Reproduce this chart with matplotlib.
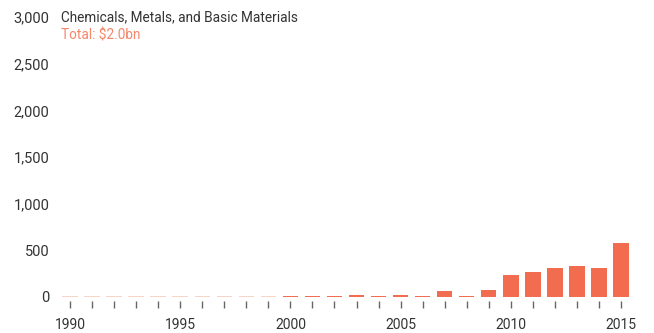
import numpy as np
import matplotlib.pyplot as plt

# yearly values, $m
years = np.arange(1990, 2016)
values = [0, 0, 0, 0, 0, 0, 0, 0, 0, 0,
          5, 4, 6, 20, 10, 22, 10, 62, 10, 72,
          235, 265, 310, 330, 310, 580]
title = 'Chemicals, Metals, and Basic Materials'
total_label = 'Total: $2.0bn'

bar_color = '#f26d50'
empty_color = '#f8d3c8'
text_color = '#333333'

plt.rcParams['font.family'] = ['Roboto', 'DejaVu Sans']

fig = plt.figure(figsize=(6.54, 3.33), dpi=100)
ax = fig.add_axes([59 / 654, 36 / 333, 573 / 654, 280 / 333])

vals = np.array(values, dtype=float)
# empty years are shown as a faint stub
heights = np.where(vals > 0, np.maximum(vals, 6), 6)
colors = [bar_color if v > 0 else empty_color for v in vals]
ax.bar(years, heights, width=0.7, color=colors, linewidth=0)

ax.set_xlim(1989.5, 2015.5)
ax.set_ylim(0, 3000)

ax.set_yticks(np.arange(0, 3001, 500))
ax.set_yticklabels([f'{v:,}' for v in range(0, 3001, 500)])
ax.set_xticks(years)
ax.set_xticklabels([str(y) if y % 5 == 0 else '' for y in years])

for s in ['top', 'right', 'left']:
    ax.spines[s].set_visible(False)
ax.spines['bottom'].set_position(('outward', 3))
ax.spines['bottom'].set_visible(False)

ax.tick_params(axis='y', length=0, pad=7, labelsize=10.5, labelcolor=text_color)
ax.tick_params(axis='x', length=5, width=1, color='#666666', pad=7,
               labelsize=10, labelcolor=text_color)

ax.text(2 / 573, 3000, title, transform=ax.get_yaxis_transform(),
        fontsize=9.8, color=text_color, va='center', ha='left')
ax.text(2 / 573, 2800, total_label, transform=ax.get_yaxis_transform(),
        fontsize=9.8, color='#f5866a', va='center', ha='left')

fig.savefig('out.png', dpi=100)
